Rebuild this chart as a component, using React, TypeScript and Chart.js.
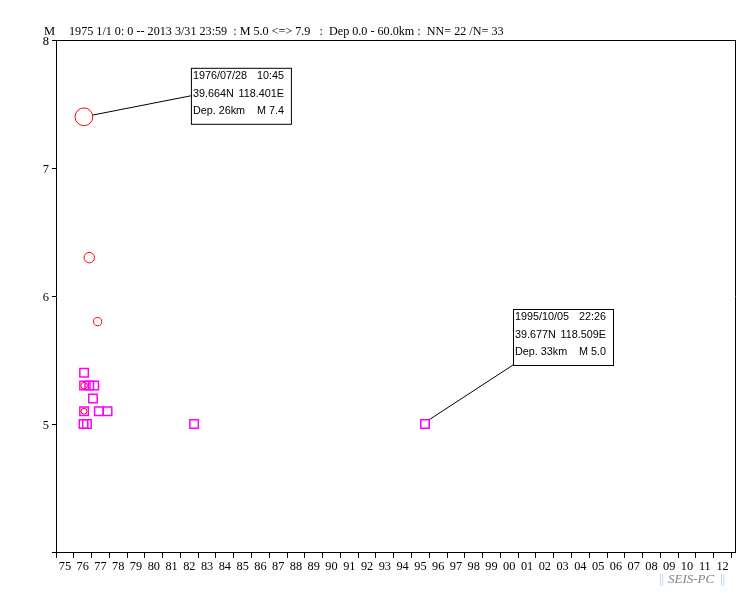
import React, { useEffect, useRef } from 'react';
import { Chart, registerables } from 'chart.js';

Chart.register(...registerables);

// ---- text ----
const axisLetter = 'M';
const headerText = '1975 1/1 0: 0 -- 2013 3/31 23:59  : M 5.0 <=> 7.9   :  Dep 0.0 - 60.0km :  NN= 22 /N= 33';
const watermarkParts = ['||', 'SEIS-PC', '||'];

// ---- axes ----
const xMin = 1975.0;
const xMax = 2013.2;
const xTickLabels = [
  '75', '76', '77', '78', '79', '80', '81', '82', '83', '84', '85', '86', '87', '88', '89',
  '90', '91', '92', '93', '94', '95', '96', '97', '98', '99', '00', '01', '02', '03', '04',
  '05', '06', '07', '08', '09', '10', '11', '12', '',
];
const yMin = 4;
const yMax = 8;
const yTickValues = [4, 5, 6, 7, 8];
const yTickLabels = ['', '5', '6', '7', '8'];

// ---- data (decimal year, magnitude) ----
const circleYears = [1976.57, 1976.87, 1977.34, 1976.58, 1976.58];
const circleMags = [7.4, 6.3, 5.8, 5.3, 5.1];

const squareYears = [1976.58, 1976.58, 1976.87, 1977.15, 1977.08, 1976.58, 1977.41, 1977.9, 1976.55, 1976.74, 1982.77, 1995.76];
const squareMags = [5.4, 5.3, 5.3, 5.3, 5.2, 5.1, 5.1, 5.1, 5.0, 5.0, 5.0, 5.0];

// ---- annotation texts ----
const noteTangshan = [
  ['1976/07/28', '10:45'],
  ['39.664N', '118.401E'],
  ['Dep. 26km', 'M 7.4'],
];
const noteLate = [
  ['1995/10/05', '22:26'],
  ['39.677N', '118.509E'],
  ['Dep. 33km', 'M 5.0'],
];

const SERIF = '"Liberation Serif", "Times New Roman", serif';
const SANS = '"Liberation Sans", Arial, sans-serif';

function circleRadius(m: number) {
  return 2.8 * Math.exp(0.48 * (m - 5));
}

function drawNote(ctx: CanvasRenderingContext2D, left: number, top: number, lines: string[][]) {
  const w = 100;
  const h = 56;
  ctx.save();
  ctx.fillStyle = '#fff';
  ctx.fillRect(left, top, w, h);
  ctx.strokeStyle = '#000';
  ctx.lineWidth = 1;
  ctx.strokeRect(left + 0.5, top + 0.5, w, h);
  ctx.fillStyle = '#000';
  ctx.font = `10.8px ${SANS}`;
  ctx.textBaseline = 'middle';
  const offs = [8, 26, 43];
  lines.forEach((ln, i) => {
    ctx.textAlign = 'left';
    ctx.fillText(ln[0], left + 2, top + offs[i]);
    ctx.textAlign = 'right';
    ctx.fillText(ln[1], left + w - 7, top + offs[i]);
  });
  ctx.restore();
}

const decorPlugin = {
  id: 'decor',
  afterDraw(chart: any) {
    const ctx: CanvasRenderingContext2D = chart.ctx;
    const a = chart.chartArea;
    ctx.save();
    // frame: top and right
    ctx.strokeStyle = '#000';
    ctx.lineWidth = 1;
    ctx.beginPath();
    ctx.moveTo(a.left, a.top + 0.5);
    ctx.lineTo(a.right + 1, a.top + 0.5);
    ctx.moveTo(a.right + 0.5, a.top);
    ctx.lineTo(a.right + 0.5, a.bottom + 1);
    ctx.stroke();

    // header
    ctx.fillStyle = '#000';
    ctx.font = `12.5px ${SERIF}`;
    ctx.textBaseline = 'alphabetic';
    ctx.textAlign = 'left';
    ctx.fillText(axisLetter, 44, 35);
    ctx.font = `12.15px ${SERIF}`;
    ctx.fillText(headerText, 69, 35);

    // annotation 1: big circle
    const cm = chart.getDatasetMeta(1).data[0];
    const r = circleRadius(circleMags[0]);
    const b1x = cm.x + 107;
    const b1y = cm.y - 49;
    const tx = b1x;
    const ty = b1y + 28;
    const dx = tx - cm.x;
    const dy = ty - cm.y;
    const len = Math.hypot(dx, dy);
    ctx.beginPath();
    ctx.moveTo(cm.x + (r * dx) / len, cm.y + (r * dy) / len);
    ctx.lineTo(tx, ty);
    ctx.stroke();
    drawNote(ctx, b1x, b1y, noteTangshan);

    // annotation 2: last square
    const sm = chart.getDatasetMeta(0).data[squareYears.length - 1];
    const b2x = sm.x + 88;
    const b2y = sm.y - 115;
    ctx.beginPath();
    ctx.moveTo(b2x, b2y + 56);
    ctx.lineTo(sm.x + 4.5, sm.y - 4.5);
    ctx.stroke();
    drawNote(ctx, b2x, b2y, noteLate);

    // watermark
    ctx.textBaseline = 'alphabetic';
    ctx.textAlign = 'left';
    ctx.font = `13px ${SERIF}`;
    ctx.fillStyle = '#a8cdec';
    ctx.fillText(watermarkParts[0], 659, 583);
    ctx.font = `italic 13px ${SERIF}`;
    ctx.fillStyle = '#808088';
    ctx.fillText(watermarkParts[1], 668, 583);
    ctx.font = `13px ${SERIF}`;
    ctx.fillStyle = '#a8cdec';
    ctx.fillText(watermarkParts[2], 720, 583);
    ctx.restore();
  },
};

export default function App() {
  const ref = useRef<HTMLCanvasElement | null>(null);

  useEffect(() => {
    if (!ref.current) return;
    const chart = new Chart(ref.current, {
      type: 'scatter',
      data: {
        datasets: [
          {
            label: 'squares',
            data: squareYears.map((x, i) => ({ x, y: squareMags[i] })),
            pointStyle: 'rect',
            pointRadius: 6,
            pointBorderWidth: 1.5,
            borderColor: '#ff00ff',
            backgroundColor: 'rgba(0,0,0,0)',
          },
          {
            label: 'circles',
            data: circleYears.map((x, i) => ({ x, y: circleMags[i] })),
            pointStyle: 'circle',
            pointRadius: (c: any) => circleRadius(circleMags[c.dataIndex]),
            pointBorderWidth: 1,
            borderColor: '#ff0000',
            backgroundColor: 'rgba(0,0,0,0)',
          },
        ],
      },
      options: {
        responsive: false,
        animation: false,
        events: [],
        layout: { padding: { top: 40, right: 16, left: 0, bottom: 0 } },
        plugins: {
          legend: { display: false },
          tooltip: { enabled: false },
          title: { display: false },
        },
        scales: {
          x: {
            type: 'linear',
            min: xMin,
            max: xMax,
            afterBuildTicks: (s: any) => {
              s.ticks = xTickLabels.map((_, i) => ({ value: xMin + i }));
            },
            afterFit: (s: any) => {
              s.height = 41;
            },
            ticks: {
              autoSkip: false,
              maxRotation: 0,
              minRotation: 0,
              padding: 1.5,
              labelOffset: 8.9,
              color: '#000',
              font: { family: SERIF, size: 12.3 },
              callback: (_v: any, i: number) => xTickLabels[i],
            },
            grid: {
              display: true,
              drawOnChartArea: false,
              drawTicks: true,
              tickLength: 6,
              color: '#000',
              tickColor: '#000',
            },
            border: { display: true, color: '#000', width: 1 },
          },
          y: {
            type: 'linear',
            min: yMin,
            max: yMax,
            afterBuildTicks: (s: any) => {
              s.ticks = yTickValues.map((v) => ({ value: v }));
            },
            afterFit: (s: any) => {
              s.width = 56;
            },
            ticks: {
              padding: 3,
              labelOffset: 2,
              color: '#000',
              font: { family: SERIF, size: 12.5 },
              callback: (_v: any, i: number) => yTickLabels[i],
            },
            grid: {
              display: true,
              drawOnChartArea: false,
              drawTicks: true,
              tickLength: 4,
              color: '#000',
              tickColor: '#000',
            },
            border: { display: true, color: '#000', width: 1 },
          },
        },
      },
      plugins: [decorPlugin],
    } as any);
    return () => chart.destroy();
  }, []);

  return (
    <div style={{ position: 'fixed', left: 0, top: 0, width: 751, height: 593, background: '#fff' }}>
      <canvas ref={ref} width={751} height={593} style={{ display: 'block' }} />
    </div>
  );
}
